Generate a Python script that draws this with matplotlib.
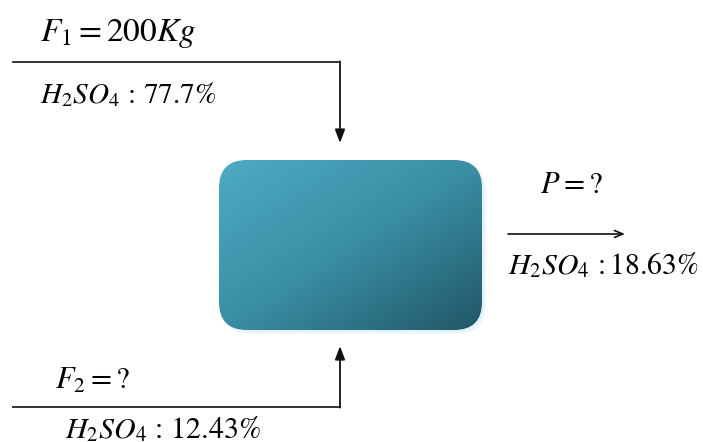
import matplotlib.pyplot as plt
import numpy as np
from matplotlib.patches import FancyBboxPatch
from matplotlib.colors import LinearSegmentedColormap

plt.rcParams['mathtext.fontset'] = 'stix'
plt.rcParams['font.family'] = 'STIXGeneral'

# stream labels
feed1_labels = [r'$F_1 = 200Kg$', r'$H_2SO_4\,{:}\,77.7\%$']
feed2_labels = [r'$F_2 = ?$', r'$H_2SO_4\,{:}\,12.43\%$']
product_labels = [r'$P = ?$', r'$H_2SO_4\,{:}18.63\%$']

fig = plt.figure(figsize=(7.03, 4.42), dpi=100)
ax = fig.add_axes([0, 0, 1, 1])
ax.set_xlim(0, 703)
ax.set_ylim(442, 0)
ax.axis('off')

# rounded box with gradient and a faint shadow
bx, by, bw, bh = 219, 160, 263, 170
for off, a in [(4, 0.35), (2.5, 0.6)]:
    sh = FancyBboxPatch((bx + off, by + off), bw, bh,
                        boxstyle="round,pad=0,rounding_size=28",
                        fc='#d9eef4', ec='none', alpha=a, zorder=1)
    ax.add_patch(sh)
box = FancyBboxPatch((bx, by), bw, bh, boxstyle="round,pad=0,rounding_size=28",
                     fc='none', ec='none', zorder=2)
ax.add_patch(box)
cmap = LinearSegmentedColormap.from_list('teal', ['#4cabc4', '#3a8ea4', '#205767'])
gx, gy = np.meshgrid(np.linspace(0, 1, 200), np.linspace(0, 1, 200))
grad = gx * 0.5 + gy * 0.5
im = ax.imshow(grad, cmap=cmap, extent=(bx, bx + bw, by + bh, by), zorder=2,
               aspect='auto')
im.set_clip_path(box)

# feed 1 line and arrow
ax.plot([13, 340], [62, 62], color='#222222', lw=1.3)
ax.annotate('', xy=(340, 143), xytext=(340, 61.4),
            arrowprops=dict(arrowstyle='-|>,head_length=0.8,head_width=0.3',
                            color='#111111', lw=1.3, shrinkA=0, shrinkB=0))
ax.text(40, 33, feed1_labels[0], fontsize=24, va='center', ha='left')
ax.text(40, 95, feed1_labels[1], fontsize=21, va='center', ha='left')

# feed 2 line and arrow
ax.plot([13, 340], [407, 407], color='#222222', lw=1.3)
ax.annotate('', xy=(340, 346), xytext=(340, 407.6),
            arrowprops=dict(arrowstyle='-|>,head_length=0.8,head_width=0.3',
                            color='#111111', lw=1.3, shrinkA=0, shrinkB=0))
ax.text(55, 381, feed2_labels[0], fontsize=22, va='center', ha='left')
ax.text(65, 430, feed2_labels[1], fontsize=21.5, va='center', ha='left')

# product arrow
ax.annotate('', xy=(625, 234), xytext=(508, 234),
            arrowprops=dict(arrowstyle='->,head_length=0.6,head_width=0.25',
                            color='#111111', lw=1.2, shrinkA=0, shrinkB=0))
ax.text(540, 186, product_labels[0], fontsize=22, va='center', ha='left')
ax.text(508, 266, product_labels[1], fontsize=21.3, va='center', ha='left')

fig.savefig('out.png', dpi=100)
